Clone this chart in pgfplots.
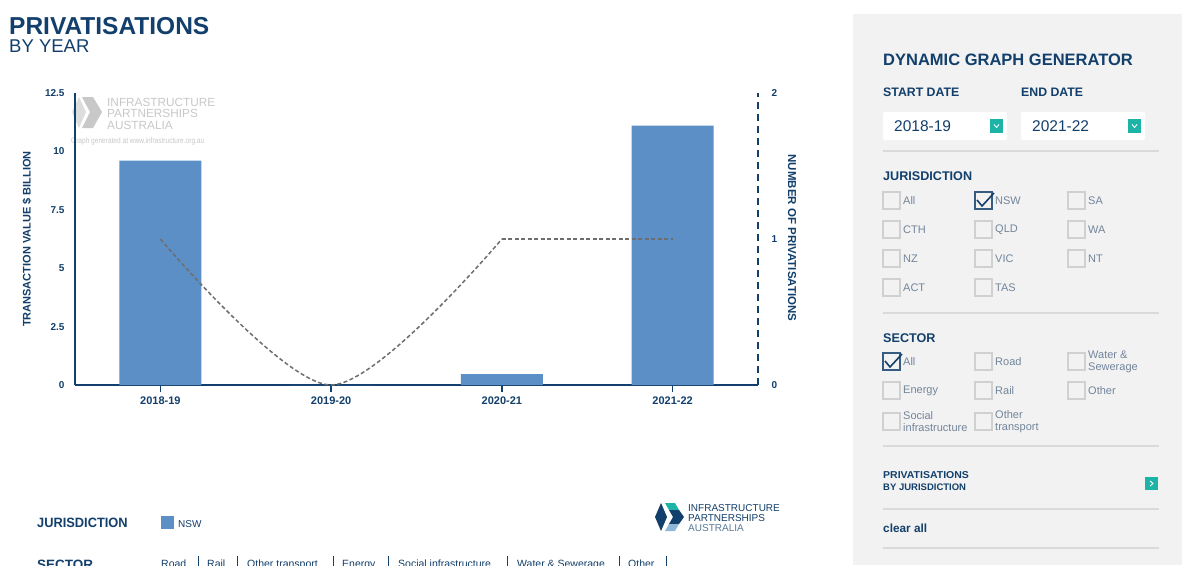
\documentclass[border=0pt]{standalone}
\usepackage{pgfplots}
\pgfplotsset{compat=1.18}
\usepackage{fontspec}
\setmainfont{Liberation Sans}
\definecolor{navy}{HTML}{123F6B}
\definecolor{barblue}{HTML}{5B8FC5}
\definecolor{panel}{HTML}{F2F2F2}
\definecolor{ipateal}{HTML}{1DB3A6}
\definecolor{labgray}{HTML}{72859B}
\definecolor{boxgray}{HTML}{D0D0D0}
\definecolor{sepgray}{HTML}{DADADA}
\definecolor{wmgray}{HTML}{C8C8C8}
\definecolor{wmgray2}{HTML}{DDDDDD}
\definecolor{linegray}{HTML}{6E6E6E}
\definecolor{lightnavy}{HTML}{8FB8D8}
\newcommand{\fs}[1]{\fontsize{#1}{#1}\selectfont}
\newcommand{\cb}[3]{%
  \draw[boxgray, line width=1.3pt] (#1,-#2) rectangle ++(17,-17);
  \node[anchor=west, inner sep=0, font=\fontsize{11}{12}\selectfont, text=labgray, align=left] at (#1+20,-#2-8.5) {#3};}
\newcommand{\cbchecked}[3]{%
  \draw[navy!85, line width=1.3pt] (#1,-#2) rectangle ++(17,-17);
  \draw[navy, line width=1.6pt] (#1+2,-#2-8) -- (#1+7,-#2-14) -- (#1+19,-#2-1);
  \node[anchor=west, inner sep=0, font=\fontsize{11}{12}\selectfont, text=labgray, align=left] at (#1+20,-#2-8.5) {#3};}
\begin{document}
\begin{tikzpicture}[x=1pt,y=1pt]
\useasboundingbox (0,0) rectangle (1182,-565);
\clip (0,0) rectangle (1182,-565);
\fill[white] (0,0) rectangle (1182,-565);

% ---- title
\node[anchor=base west, inner sep=0, text=navy, font=\fs{24.5}\bfseries] at (9,-34) {PRIVATISATIONS};
\node[anchor=base west, inner sep=0, text=navy, font=\fs{18.5}] at (9,-52) {BY YEAR};

% ---- watermark
\fill[wmgray2] (72,-112) -- (79,-97) -- (86,-112) -- (79,-128) -- cycle;
\fill[wmgray] (82,-97) -- (93,-97) -- (102,-112) -- (93,-128) -- (82,-128) -- (90,-112) -- cycle;
\node[anchor=base west, inner sep=0, text=wmgray, font=\fs{11.8}] at (107,-106) {INFRASTRUCTURE};
\node[anchor=base west, inner sep=0, text=wmgray, font=\fs{11.8}] at (107,-117) {PARTNERSHIPS};
\node[anchor=base west, inner sep=0, text=wmgray, font=\fs{11.8}] at (107,-129) {AUSTRALIA};
\node[anchor=base west, inner sep=0, text=wmgray, font=\fs{8}] at (71,-143) {\scalebox{0.82}[1]{Graph generated at www.infrastructure.org.au}};

% ---- value axis with bars
\begin{axis}[
  at={(75pt,-385pt)}, anchor=south west,
  scale only axis, width=683pt, height=292pt,
  xmin=-0.5, xmax=3.5, ymin=0, ymax=12.5,
  axis x line*=bottom, axis y line*=left,
  axis line style={navy, line width=2pt, -},
  xtick={0,1,2,3}, xticklabels={2018-19,2019-20,2020-21,2021-22},
  ytick={0,2.5,5,7.5,10,12.5}, yticklabels={0,2.5,5,7.5,10,12.5},
  ytick style={draw=none}, xtick style={navy, line width=1.6pt},
  tick align=outside, major tick length=7pt,
  xticklabel style={font=\fs{11}\bfseries, text=navy, yshift=-1pt},
  yticklabel style={font=\fs{10}\bfseries, text=navy, anchor=east, xshift=0pt},
  ybar, bar width=82pt,
  clip=false,
]
\addplot[fill=barblue, draw=none] coordinates {(0,9.6) (1,0) (2,0.47) (3,11.1)};
\end{axis}

% ---- count axis with line
\begin{axis}[
  at={(75pt,-385pt)}, anchor=south west,
  scale only axis, width=683pt, height=292pt,
  xmin=-0.5, xmax=3.5, ymin=0, ymax=2,
  axis x line=none, axis y line*=right,
  y axis line style={navy, line width=2pt, dash pattern=on 7pt off 5pt, -},
  ytick={0,1,2}, yticklabels={0,1,2}, ytick style={draw=none},
  yticklabel style={font=\fs{10}\bfseries, text=navy, anchor=west, xshift=10pt},
  clip=false,
]
\addplot[linegray, line width=1.5pt, dash pattern=on 4pt off 2.5pt, smooth, mark=none] coordinates {(0,1) (1,0) (2,1)};
\addplot[linegray, line width=1.5pt, dash pattern=on 4pt off 2.5pt, mark=none] coordinates {(2,1) (3,1)};
\end{axis}

% ---- axis titles
\node[rotate=90, inner sep=0, font=\fs{11}\bfseries, text=navy] at (27,-239) {TRANSACTION VALUE \$ BILLION};
\node[rotate=-90, inner sep=0, font=\fs{11.5}\bfseries, text=navy] at (792,-238) {NUMBER OF PRIVATISATIONS};

% ---- bottom legend
\node[anchor=base west, inner sep=0, text=navy, font=\fs{13.5}\bfseries] at (37,-527) {\scalebox{0.95}[1]{JURISDICTION}};
\fill[barblue] (161,-516) rectangle (174,-529);
\node[anchor=base west, inner sep=0, text=navy, font=\fs{10}] at (178,-527) {NSW};
\node[anchor=base west, inner sep=0, text=navy, font=\fs{13.5}\bfseries] at (37,-569) {SECTOR};
\begin{scope}[every node/.style={anchor=base west, inner sep=0, text=navy, font=\fs{10.5}}]
\node at (161,-567) {Road};
\node at (207,-567) {Rail};
\node at (247,-567) {Other transport};
\node at (342,-567) {Energy};
\node at (398,-567) {Social infrastructure};
\node at (517,-567) {Water \& Sewerage};
\node at (628,-567) {Other};
\end{scope}
\foreach \xx in {198,237,333,388,507,619,666} {\draw[navy, line width=0.8pt] (\xx,-556) -- (\xx,-570);}

% ---- bottom logo
\fill[navy] (655,-517) -- (661,-503) -- (667,-517) -- (661,-531) -- cycle;
\fill[ipateal] (665,-503) -- (675,-503) -- (679,-510) -- (669,-510) -- cycle;
\fill[navy] (669,-510) -- (679,-510) -- (684,-517) -- (679,-524) -- (669,-524) -- (673,-517) -- cycle;
\fill[lightnavy] (669,-524) -- (679,-524) -- (675,-531) -- (665,-531) -- cycle;
\node[anchor=base west, inner sep=0, text=navy, font=\fs{10}] at (688,-511) {INFRASTRUCTURE};
\node[anchor=base west, inner sep=0, text=navy, font=\fs{10}] at (688,-521) {PARTNERSHIPS};
\node[anchor=base west, inner sep=0, text=navy!70, font=\fs{10}] at (688,-531) {AUSTRALIA};

% ---- side panel
\fill[panel] (853,-14) rectangle (1182,-565);
\node[anchor=base west, inner sep=0, text=navy, font=\fs{16.5}\bfseries] at (883,-65) {DYNAMIC GRAPH GENERATOR};
\node[anchor=base west, inner sep=0, text=navy, font=\fs{12.3}\bfseries] at (883,-96) {START DATE};
\node[anchor=base west, inner sep=0, text=navy, font=\fs{12.3}\bfseries] at (1021,-96) {END DATE};
\fill[white, rounded corners=2pt] (883,-112) rectangle (1007,-140);
\fill[white, rounded corners=2pt] (1021,-112) rectangle (1145,-140);
\node[anchor=base west, inner sep=0, text=navy, font=\fs{15.5}] at (894,-131) {2018-19};
\node[anchor=base west, inner sep=0, text=navy, font=\fs{15.5}] at (1032,-131) {2021-22};
\fill[ipateal] (990,-119) rectangle (1003,-133);
\fill[ipateal] (1128,-119) rectangle (1141,-133);
\draw[white, line width=0.9pt] (994,-124.5) -- (996.5,-127.5) -- (999,-124.5);
\draw[white, line width=0.9pt] (1132,-124.5) -- (1134.5,-127.5) -- (1137,-124.5);
\draw[sepgray, line width=1.2pt] (883,-151) -- (1159,-151);

\node[anchor=base west, inner sep=0, text=navy, font=\fs{12.6}\bfseries] at (883,-180) {JURISDICTION};
\cb{883}{192}{All}
\cbchecked{975}{192}{NSW}
\cb{1068}{192}{SA}
\cb{883}{221}{CTH}
\cb{975}{221}{QLD}
\cb{1068}{221}{WA}
\cb{883}{250}{NZ}
\cb{975}{250}{VIC}
\cb{1068}{250}{NT}
\cb{883}{279}{ACT}
\cb{975}{279}{TAS}
\draw[sepgray, line width=1.2pt] (883,-313) -- (1159,-313);

\node[anchor=base west, inner sep=0, text=navy, font=\fs{12.6}\bfseries] at (883,-342) {SECTOR};
\cbchecked{883}{353}{All}
\cb{975}{353}{Road}
\cb{1068}{353}{Water \&\\Sewerage}
\cb{883}{382}{Energy}
\cb{975}{382}{Rail}
\cb{1068}{382}{Other}
\cb{883}{413}{Social\\infrastructure}
\cb{975}{413}{Other\\transport}
\draw[sepgray, line width=1.2pt] (883,-446) -- (1159,-446);

\node[anchor=base west, inner sep=0, text=navy, font=\fs{10}\bfseries] at (883,-478) {\scalebox{1.05}[1]{PRIVATISATIONS}};
\node[anchor=base west, inner sep=0, text=navy, font=\fs{9.5}\bfseries] at (883,-490) {BY JURISDICTION};
\fill[ipateal] (1145,-477) rectangle (1158,-490);
\draw[white, line width=0.9pt] (1150,-481) -- (1153,-483.5) -- (1150,-486);
\draw[sepgray, line width=1.2pt] (883,-509) -- (1159,-509);
\node[anchor=base west, inner sep=0, text=navy, font=\fs{11.8}\bfseries] at (883,-532) {clear all};
\draw[sepgray, line width=1.2pt] (883,-548) -- (1159,-548);
\end{tikzpicture}
\end{document}
